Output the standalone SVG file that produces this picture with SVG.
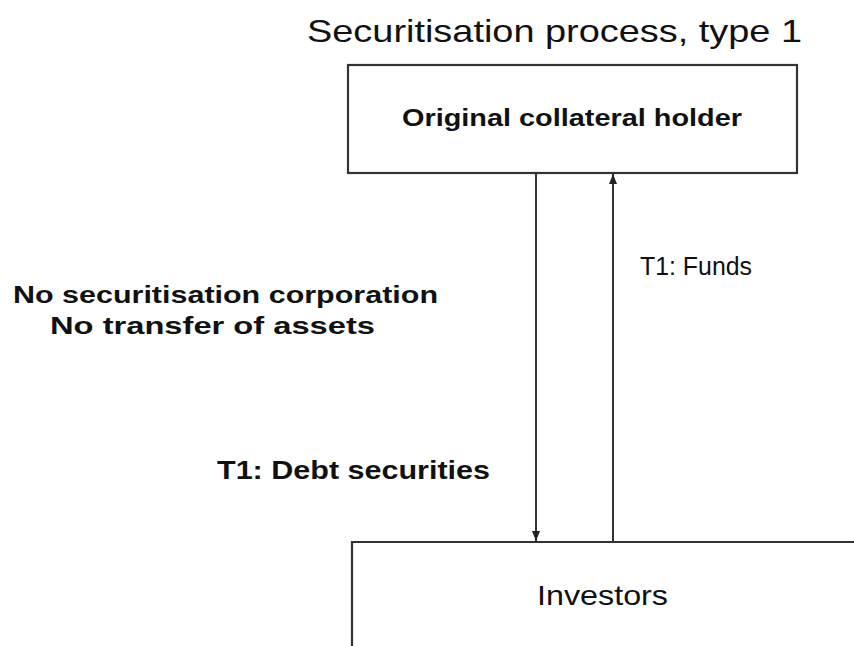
<svg xmlns="http://www.w3.org/2000/svg" width="854" height="646" viewBox="0 0 854 646">
<style>
.box{fill:#fff;stroke:#333;stroke-width:2.2}
.t{font-family:"Liberation Sans",Arial,sans-serif;fill:#111}
.b{font-weight:bold}
.c{stroke:#333;stroke-width:2;fill:none}
</style>
<defs>
<marker id="ah" viewBox="0 0 10 10" refX="10" refY="5" markerWidth="10" markerHeight="10" orient="auto" markerUnits="userSpaceOnUse"><path d="M0,1L10,5L0,9z" fill="#222"/></marker>
</defs>
<rect width="854" height="646" fill="#fff"/>
<text class="t" x="307" y="42" font-size="32" textLength="495" lengthAdjust="spacingAndGlyphs" fill="#333">Securitisation process, type 1</text>
<g id="holder">
<rect class="box" x="348" y="65" width="449" height="108"/>
<text class="t b" x="402" y="126" font-size="24" textLength="340" lengthAdjust="spacingAndGlyphs">Original collateral holder</text>
</g>
<g id="investors">
<path class="box" d="M352,646 V542 H856"/>
<text class="t" x="537" y="605" font-size="28" textLength="131" lengthAdjust="spacingAndGlyphs">Investors</text>
</g>
<g id="connectors">
<line class="c" x1="536" y1="174" x2="536" y2="541" marker-end="url(#ah)"/>
<line class="c" x1="613" y1="541" x2="613" y2="174" marker-end="url(#ah)"/>
</g>
<g id="labels">
<text class="t" x="640" y="275" font-size="25" textLength="112" lengthAdjust="spacingAndGlyphs" fill="#222">T1: Funds</text>
<text class="t b" x="13" y="303" font-size="24" textLength="425" lengthAdjust="spacingAndGlyphs">No securitisation corporation</text>
<text class="t b" x="50" y="334" font-size="24" textLength="325" lengthAdjust="spacingAndGlyphs">No transfer of assets</text>
<text class="t b" x="217" y="479" font-size="25" textLength="273" lengthAdjust="spacingAndGlyphs">T1: Debt securities</text>
</g>
</svg>
